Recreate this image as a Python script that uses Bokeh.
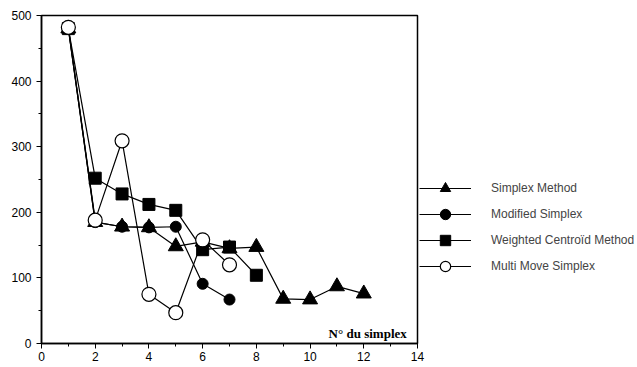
from bokeh.plotting import figure
from bokeh.models import Legend, LegendItem, Label, FixedTicker
from bokeh.embed import file_html
from bokeh.resources import INLINE

# Data
simplex_x = [1, 2, 3, 4, 5, 6, 7, 8, 9, 10, 11, 12]
simplex_y = [480, 185, 178, 177, 148, 155, 145, 147, 68, 67, 87, 76]

modified_x = [1, 2, 3, 4, 5, 6, 7]
modified_y = [480, 185, 178, 177, 178, 91, 67]

weighted_x = [1, 2, 3, 4, 5, 6, 7, 8]
weighted_y = [480, 252, 228, 212, 203, 143, 147, 104]

multi_x = [1, 2, 3, 4, 5, 6, 7]
multi_y = [482, 188, 309, 75, 47, 158, 120]

series_names = ["Simplex Method", "Modified Simplex", "Weighted Centroïd Method", "Multi Move Simplex"]
x_ticks = [0, 2, 4, 6, 8, 10, 12, 14]
y_ticks = [0, 100, 200, 300, 400, 500]

FONT = "Liberation Sans"

p = figure(frame_width=376, frame_height=328, x_range=(0, 14), y_range=(0, 500),
           output_backend="svg", toolbar_location=None,
           min_border_left=41, min_border_top=15, min_border_bottom=5, min_border_right=0,
           background_fill_color="white", border_fill_color="white")
p.grid.visible = False
p.outline_line_color = "black"
p.outline_line_width = 1.5

for ax in (p.xaxis[0], p.yaxis[0]):
    ax.axis_line_width = 1.5
    ax.axis_line_color = "black"
    ax.major_tick_line_color = "black"
    ax.minor_tick_line_color = "black"
    ax.major_tick_out = 5
    ax.major_tick_in = 0
    ax.minor_tick_out = 3
    ax.minor_tick_in = 0
    ax.major_label_text_font = FONT
    ax.major_label_text_font_size = "12px"
    ax.major_label_text_color = "black"

p.xaxis[0].ticker = FixedTicker(ticks=x_ticks, minor_ticks=list(range(0, 15)))
p.yaxis[0].ticker = FixedTicker(ticks=y_ticks, minor_ticks=list(range(0, 501, 50)))
p.xaxis[0].major_label_standoff = 3
p.yaxis[0].major_label_standoff = 5

lw = 1.2
r_w_l = p.line(weighted_x, weighted_y, line_color="black", line_width=lw)
r_w_s = p.scatter(weighted_x, weighted_y, marker="square", size=12, fill_color="black", line_color="black")

r_m_l = p.line(modified_x, modified_y, line_color="black", line_width=lw)
r_m_s = p.scatter(modified_x, modified_y, marker="circle", size=11, fill_color="black", line_color="black")

r_s_l = p.line(simplex_x, simplex_y, line_color="black", line_width=lw)
r_s_s = p.scatter(simplex_x, simplex_y, marker="triangle", size=15, fill_color="black", line_color="black")

r_o_l = p.line(multi_x, multi_y, line_color="black", line_width=lw)
r_o_s = p.scatter(multi_x, multi_y, marker="circle", size=14, fill_color="white", line_color="black", line_width=1.2)

legend = Legend(items=[
    LegendItem(label=series_names[0], renderers=[r_s_l, r_s_s]),
    LegendItem(label=series_names[1], renderers=[r_m_l, r_m_s]),
    LegendItem(label=series_names[2], renderers=[r_w_l, r_w_s]),
    LegendItem(label=series_names[3], renderers=[r_o_l, r_o_s]),
], location=(2, 64), orientation="vertical")
legend.glyph_width = 52
legend.glyph_height = 26
legend.spacing = 0
legend.label_standoff = 20
legend.label_text_font = FONT
legend.label_text_font_size = "12px"
legend.label_height = 20
legend.padding = 0
legend.margin = 0
legend.border_line_color = None
legend.background_fill_alpha = 0
p.add_layout(legend, "right")
p.min_border_right = 5

lbl = Label(x=13.6, y=15, text="N° du simplex", text_align="right", text_baseline="alphabetic",
            text_font="Liberation Serif", text_font_style="bold", text_font_size="13px", text_color="black")
p.add_layout(lbl)

open("out.html", "w").write(file_html(p, INLINE))
